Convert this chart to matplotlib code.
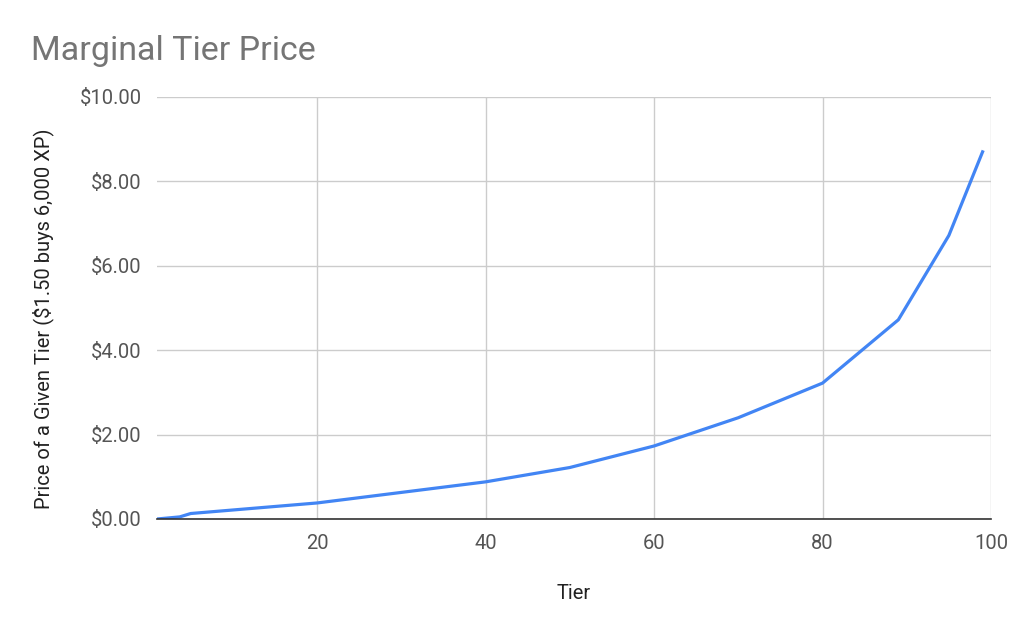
import matplotlib.pyplot as plt
from matplotlib.ticker import FuncFormatter

plt.rcParams['font.family'] = ['Roboto', 'DejaVu Sans']

tiers = [1, 3.7, 5, 20, 40, 50, 60, 70, 80, 89, 95, 99]
prices = [0.0, 0.05, 0.13, 0.38, 0.88, 1.22, 1.73, 2.40, 3.22, 4.72, 6.72, 8.70]

fig = plt.figure(figsize=(10.24, 6.33), dpi=100)
ax = fig.add_axes([157 / 1024, 1 - 519 / 633, (991 - 157) / 1024, (519 - 97) / 633])

ax.plot(tiers, prices, color='#4285F4', linewidth=2.3, solid_joinstyle='round', zorder=3)

ax.set_xlim(1, 100)
ax.set_ylim(0, 10)
ax.set_xticks([20, 40, 60, 80, 100])
ax.set_yticks([0, 2, 4, 6, 8, 10])
ax.yaxis.set_major_formatter(FuncFormatter(lambda v, p: '\\$%.2f' % v))

ax.grid(True, color='#cccccc', linewidth=1.0)
ax.set_axisbelow(True)
for s in ['top', 'left', 'right']:
    ax.spines[s].set_visible(False)
ax.spines['bottom'].set_color('#333333')
ax.spines['bottom'].set_linewidth(1.2)
ax.spines['bottom'].set_zorder(4)
ax.tick_params(length=0, labelsize=14.5, labelcolor='#555555', pad=11)

ax.set_xlabel('Tier', fontsize=14.5, color='#222222', labelpad=22)
ax.set_ylabel('Price of a Given Tier (\\$1.50 buys 6,000 XP)', fontsize=14.5, color='#222222',
              va='center')
ax.yaxis.set_label_coords(-0.137, 0.475)

fig.text(31 / 1024, 1 - 60 / 633, 'Marginal Tier Price', fontsize=24.5, color='#757575')

fig.savefig('out.png', dpi=100)
